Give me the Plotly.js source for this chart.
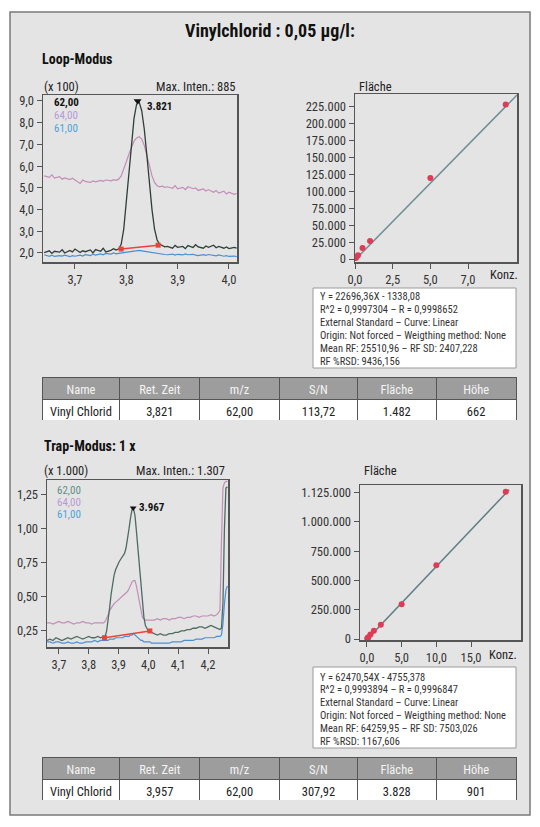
<!DOCTYPE html>
<html><head><meta charset="utf-8">
<script src="https://cdn.plot.ly/plotly-3.0.1.min.js"></script>
<style>html,body{margin:0;padding:0;background:#fff}#chart{width:540px;height:827px}</style>
</head><body><div id="chart"></div>
<script>
// ---------- DATA ----------
// Loop-Modus chromatogram (x 100)
const loopTime = [3.640,3.650,3.655,3.660,3.670,3.675,3.680,3.690,3.695,3.700,3.710,3.715,3.720,3.730,3.735,3.740,3.750,3.755,3.760,3.770,3.775,3.780,
  3.785,3.790,3.795,3.800,3.805,3.810,3.815,3.820,3.825,3.830,3.835,3.840,3.845,3.850,3.855,3.860,3.865,3.870,3.875,
  3.880,3.890,3.895,3.900,3.910,3.915,3.920,3.930,3.935,3.940,3.950,3.955,3.960,3.970,3.975,3.980,3.990,3.995,4.000,4.010,4.015];
const loop62 = [2.02,2.10,1.98,2.08,2.04,2.15,2.00,2.12,2.05,2.18,2.02,2.10,2.06,2.14,2.00,2.16,2.08,2.22,2.05,2.12,2.20,2.14,
  2.18,2.40,3.10,4.40,5.90,7.20,8.20,8.85,8.95,8.55,7.70,6.50,5.20,4.00,3.10,2.60,2.40,2.32,2.28,
  2.30,2.22,2.35,2.26,2.30,2.20,2.34,2.25,2.38,2.28,2.22,2.32,2.26,2.36,2.24,2.30,2.22,2.28,2.20,2.26,2.22];
const loop64 = [5.55,5.48,5.60,5.45,5.52,5.40,5.46,5.38,5.44,5.35,5.20,5.36,5.30,5.25,5.32,5.28,5.34,5.30,5.36,5.32,5.38,5.35,
  5.40,5.55,5.85,6.20,6.55,6.90,7.15,7.30,7.35,7.25,6.95,6.50,6.00,5.55,5.25,5.10,5.05,5.08,5.02,
  5.05,4.98,5.10,4.95,5.02,4.92,5.05,4.96,5.00,4.88,4.95,4.85,4.92,4.80,4.88,4.76,4.85,4.72,4.80,4.70,4.74];
const loop61 = [1.92,1.85,1.90,1.84,1.88,1.86,1.90,1.83,1.88,1.85,1.90,1.86,1.92,1.88,1.94,1.90,1.96,1.92,1.98,1.95,2.00,1.96,
  1.98,2.00,2.02,2.04,2.06,2.08,2.10,2.10,2.12,2.10,2.08,2.06,2.02,2.00,1.98,1.96,1.95,1.94,1.93,
  1.92,1.95,1.90,1.94,1.91,1.96,1.92,1.94,1.90,1.88,1.92,1.89,1.93,1.90,1.87,1.91,1.85,1.88,1.84,1.86,1.83];
const loopBaseX = [3.790, 3.862];
const loopBaseY = [2.18, 2.36];
const loopPeakX = [3.822];
const loopPeakY = [9.0];
const loopPeakLabel = "3.821";

// Loop-Modus calibration
const loopConc = [0.05, 0.1, 0.2, 0.5, 1.0, 5.0, 10.0];
const loopArea = [1500, 3000, 5500, 16500, 26500, 120000, 228500];
const loopFitX = [0, 10.75];
const loopFitY = [-1340, 242650];
const loopYTicks = [0,25000,50000,75000,100000,125000,150000,175000,200000,225000];
const loopYTickText = ["0","25.000","50.000","75.000","100.000","125.000","150.000","175.000","200.000","225.000"];
const loopXTicks = [0, 2.5, 5, 7.5];
const loopXTickText = ["0,0","2,5","5,0","7,0"];
const loopInfo = ["Y = 22696,36X - 1338,08","R^2 = 0,9997304 \u2013 R = 0,9998652","External Standard \u2013 Curve: Linear",
  "Origin: Not forced \u2013 Weigthing method: None","Mean RF: 25510,96 \u2013 RF SD: 2407,228","RF %RSD: 9436,156"];

// Trap-Modus chromatogram (x 1.000)
const trapTime = [3.660,3.670,3.680,3.690,3.700,3.710,3.720,3.730,3.740,3.750,3.760,3.770,3.780,3.790,3.800,3.810,3.820,3.830,3.840,3.850,
  3.855,3.860,3.865,3.870,3.875,3.880,3.885,3.890,3.895,3.900,3.905,3.910,3.915,3.920,3.925,3.930,3.935,3.940,3.945,3.950,3.955,3.960,3.965,3.970,3.975,3.980,3.985,3.990,3.995,4.000,4.005,4.010,
  4.020,4.030,4.040,4.050,4.060,4.070,4.080,4.090,4.100,4.110,4.120,4.130,4.140,4.150,4.160,4.170,4.180,4.190,4.200,4.210,4.220,4.230,4.240,
  4.245,4.250,4.255,4.260,4.265];
const trap62 = [0.18,0.19,0.18,0.20,0.19,0.18,0.19,0.20,0.19,0.20,0.21,0.20,0.19,0.20,0.21,0.20,0.20,0.21,0.20,0.21,
  0.21,0.25,0.32,0.42,0.52,0.60,0.66,0.70,0.73,0.75,0.77,0.79,0.80,0.82,0.86,0.92,1.00,1.08,1.14,1.15,1.10,0.98,0.85,0.72,0.58,0.45,0.35,0.29,0.27,0.25,0.245,0.24,
  0.23,0.22,0.23,0.22,0.22,0.23,0.23,0.24,0.24,0.25,0.25,0.26,0.26,0.27,0.27,0.28,0.28,0.27,0.28,0.29,0.28,0.27,0.26,
  0.27,0.45,1.00,1.30,1.31];
const trap64 = [0.31,0.31,0.30,0.31,0.32,0.31,0.31,0.32,0.31,0.30,0.31,0.31,0.32,0.31,0.31,0.30,0.31,0.31,0.31,0.31,
  0.32,0.34,0.37,0.40,0.42,0.44,0.45,0.46,0.47,0.48,0.49,0.50,0.51,0.52,0.53,0.54,0.56,0.59,0.61,0.62,0.62,0.58,0.52,0.46,0.40,0.35,0.34,0.33,0.33,0.33,0.335,0.33,
  0.33,0.34,0.33,0.34,0.34,0.33,0.34,0.34,0.35,0.35,0.34,0.35,0.35,0.36,0.36,0.35,0.36,0.36,0.36,0.37,0.36,0.37,0.40,
  0.90,1.30,1.34,1.35,1.35];
const trap61 = [0.17,0.17,0.16,0.17,0.17,0.16,0.16,0.17,0.16,0.16,0.17,0.16,0.16,0.17,0.17,0.17,0.18,0.17,0.18,0.18,
  0.18,0.18,0.18,0.19,0.19,0.19,0.19,0.20,0.20,0.20,0.20,0.20,0.20,0.21,0.21,0.21,0.21,0.22,0.22,0.23,0.22,0.21,0.20,0.19,0.18,0.18,0.17,0.17,0.17,0.17,0.17,0.16,
  0.16,0.16,0.16,0.16,0.16,0.16,0.17,0.17,0.17,0.17,0.18,0.18,0.18,0.18,0.19,0.19,0.19,0.20,0.20,0.20,0.20,0.21,0.21,
  0.22,0.30,0.45,0.55,0.58];
const trapBaseX = [3.853, 4.005];
const trapBaseY = [0.20, 0.25];
const trapPeakX = [3.949];
const trapPeakY = [1.155];
const trapPeakLabel = "3.967";

// Trap-Modus calibration
const trapConc = [0.05, 0.1, 0.2, 0.5, 1, 2, 5, 10, 20];
const trapArea = [3800, 9000, 16000, 38000, 70000, 122000, 298000, 630000, 1258000];
const trapFitX = [0, 20.5];
const trapFitY = [-4755, 1276000];
const trapYTicks = [0, 250000, 500000, 750000, 1000000, 1250000];
const trapYTickText = ["0","250.000","500.000","750.000","1.000.000","1.125.000"];
const trapXTicks = [0, 5, 10, 15];
const trapXTickText = ["0,0","5,0","10,0","15,0"];
const trapInfo = ["Y = 62470,54X - 4755,378","R^2 = 0,9993894 \u2013 R = 0,9996847","External Standard \u2013 Curve: Linear",
  "Origin: Not forced \u2013 Weigthing method: None","Mean RF: 64259,95 \u2013 RF SD: 7503,026","RF %RSD: 1167,606"];

// Tables
const tableHeader = ["Name","Ret. Zeit","m/z","S/N","Fl\u00e4che","H\u00f6he"];
const loopRow = ["Vinyl\u00a0Chlorid","3,821","62,00","113,72","1.482","662"];
const trapRow = ["Vinyl\u00a0Chlorid","3,957","62,00","307,92","3.828","901"];
const massLabels = ["62,00","64,00","61,00"];

// ---------- LAYOUT HELPERS ----------
const W = 540, H = 827;
const px = x => x / W;
const py = y => 1 - y / H;
const FONT = "Liberation Sans Narrow, Roboto Condensed, Roboto, Arial, sans-serif";
const C62 = "#2f3f38", C64 = "#c48db8", C61 = "#4a8fd6", CRED = "#e8443a";
const C62b = "#4d6c64";

function ax(domain, range, extra) {
  return Object.assign({
    domain: domain, range: range, showgrid: false, zeroline: false,
    showline: true, mirror: true, linecolor: "#555", linewidth: 1.5,
    ticks: "outside", ticklen: 5, tickcolor: "#555", tickwidth: 1,
    tickfont: {family: FONT, size: 12.5, color: "#333"}, fixedrange: true
  }, extra);
}

const traces = [
  // Chart 1
  {x: loopTime, y: loop64, xaxis: "x", yaxis: "y", mode: "lines", line: {color: C64, width: 1.2}, hoverinfo: "skip"},
  {x: loopTime, y: loop61, xaxis: "x", yaxis: "y", mode: "lines", line: {color: C61, width: 1.2}, hoverinfo: "skip"},
  {x: loopTime, y: loop62, xaxis: "x", yaxis: "y", mode: "lines", line: {color: C62, width: 1.3}, hoverinfo: "skip"},
  {x: loopBaseX, y: loopBaseY, xaxis: "x", yaxis: "y", mode: "lines+markers", line: {color: CRED, width: 1.5}, marker: {color: CRED, size: 5, symbol: "square"}},
  {x: loopPeakX, y: loopPeakY, xaxis: "x", yaxis: "y", mode: "markers", marker: {color: "#111", size: 7, symbol: "triangle-down"}},
  // Chart 2
  {x: loopFitX, y: loopFitY, xaxis: "x2", yaxis: "y2", mode: "lines", line: {color: "#6f8f95", width: 1.5}},
  {x: loopConc, y: loopArea, xaxis: "x2", yaxis: "y2", mode: "markers", marker: {color: "#e03a55", size: 6}},
  // Chart 3
  {x: trapTime, y: trap64, xaxis: "x3", yaxis: "y3", mode: "lines", line: {color: C64, width: 1.2}},
  {x: trapTime, y: trap61, xaxis: "x3", yaxis: "y3", mode: "lines", line: {color: C61, width: 1.2}},
  {x: trapTime, y: trap62, xaxis: "x3", yaxis: "y3", mode: "lines", line: {color: C62b, width: 1.3}},
  {x: trapBaseX, y: trapBaseY, xaxis: "x3", yaxis: "y3", mode: "lines+markers", line: {color: CRED, width: 1.5}, marker: {color: CRED, size: 5, symbol: "square"}},
  {x: trapPeakX, y: trapPeakY, xaxis: "x3", yaxis: "y3", mode: "markers", marker: {color: "#111", size: 6, symbol: "triangle-down"}},
  // Chart 4
  {x: trapFitX, y: trapFitY, xaxis: "x4", yaxis: "y4", mode: "lines", line: {color: "#5f7f85", width: 1.5}},
  {x: trapConc, y: trapArea, xaxis: "x4", yaxis: "y4", mode: "markers", marker: {color: "#e03a55", size: 6}},
];

function tableTrace(row, y0, y1) {
  return {
    type: "table",
    domain: {x: [px(42), px(517)], y: [py(y1), py(y0)]},
    columnwidth: [78, 80, 80, 78, 79, 80],
    header: {values: tableHeader, fill: {color: "#9d9d9d"}, align: "center", height: 22,
      font: {family: FONT, size: 12.5, color: "#f4f4f4"}, line: {color: "#555", width: 1}},
    cells: {values: row.map(v => [v]), fill: {color: "#ffffff"}, align: "center", height: 22,
      font: {family: FONT, size: 12.5, color: "#222"}, line: {color: "#555", width: 1}}
  };
}
traces.push(tableTrace(loopRow, 377, 421));
traces.push(tableTrace(trapRow, 757, 801));

const ann = [];
function txt(text, x, y, o) {
  ann.push(Object.assign({text: text, x: px(x), y: py(y), xref: "paper", yref: "paper",
    showarrow: false, xanchor: "left", yanchor: "middle",
    font: {family: FONT, size: 12.5, color: "#222"}}, o || {}));
}
txt("<b>Vinylchlorid : 0,05 \u00b5g/l:</b>", 270, 30, {xanchor: "center", font: {family: FONT, size: 18, color: "#111"}});
txt("<b>Loop-Modus</b>", 40, 59, {font: {family: FONT, size: 14, color: "#111"}});
txt("(x 100)", 42, 86);
txt("Max. Inten.: 885", 237, 86, {xanchor: "right"});
txt("Fl\u00e4che", 357, 86);
txt("Konz.", 504, 274, {xanchor: "center"});
txt("<b>" + massLabels[0] + "</b>", 52, 103, {font: {family: FONT, size: 11, color: "#111"}});
txt(massLabels[1], 52, 116, {font: {family: FONT, size: 11, color: "#b49bd8"}});
txt(massLabels[2], 52, 129, {font: {family: FONT, size: 11, color: "#4ea3d9"}});
txt("<b>" + loopPeakLabel + "</b>", 145, 107, {font: {family: FONT, size: 11, color: "#111"}});
loopInfo.forEach((t, i) => txt(t, 318, 297 + i * 12.8, {font: {family: FONT, size: 10.5, color: "#333"}}));

txt("<b>Trap-Modus: 1 x</b>", 42, 446, {font: {family: FONT, size: 14, color: "#111"}});
txt("(x 1.000)", 42, 471);
txt("Max. Inten.: 1.307", 227, 471, {xanchor: "right"});
txt("Fl\u00e4che", 362, 470);
txt("Konz.", 503, 654, {xanchor: "center"});
txt(massLabels[0], 55, 490, {font: {family: FONT, size: 11, color: "#5e8f86"}});
txt(massLabels[1], 55, 502, {font: {family: FONT, size: 11, color: "#b49bd8"}});
txt(massLabels[2], 55, 514, {font: {family: FONT, size: 11, color: "#4ea3d9"}});
txt("<b>" + trapPeakLabel + "</b>", 137, 508, {font: {family: FONT, size: 11, color: "#111"}});
trapInfo.forEach((t, i) => txt(t, 318, 677 + i * 12.8, {font: {family: FONT, size: 10.5, color: "#333"}}));

function rect(x0, y0, x1, y1, fill, line, lw) {
  return {type: "rect", xref: "paper", yref: "paper", x0: px(x0), x1: px(x1), y0: py(y1), y1: py(y0),
    fillcolor: fill, line: {color: line, width: lw}, layer: "below"};
}

const layout = {
  width: W, height: H, margin: {l: 0, r: 0, t: 0, b: 0},
  paper_bgcolor: "#ffffff", plot_bgcolor: "#b9e4e9",
  showlegend: false, separators: ",.", font: {family: FONT},
  xaxis: ax([px(43), px(237)], [3.6377, 4.0156], {anchor: "y", tickvals: [3.7, 3.8, 3.9, 4.0], tickformat: ".1f"}),
  yaxis: ax([py(262), py(95)], [1.585, 9.276], {anchor: "x", tickvals: [2,3,4,5,6,7,8,9], tickformat: ".1f"}),
  xaxis2: ax([px(355), px(517)], [0, 10.75], {anchor: "y2", tickvals: loopXTicks, ticktext: loopXTickText}),
  yaxis2: ax([py(262), py(94)], [-4400, 244200], {anchor: "x2", tickvals: loopYTicks, ticktext: loopYTickText}),
  xaxis3: ax([px(47), px(228)], [3.66, 4.267], {anchor: "y3", tickvals: [3.7, 3.8, 3.9, 4.0, 4.1, 4.2], tickformat: ".1f"}),
  yaxis3: ax([py(647), py(480)], [0.132, 1.36], {anchor: "x3", tickvals: [0.25, 0.5, 0.75, 1.0, 1.25], tickformat: ".2f"}),
  xaxis4: ax([px(360), px(521)], [-1.0, 22.2], {anchor: "y4", tickvals: trapXTicks, ticktext: trapXTickText}),
  yaxis4: ax([py(640), py(485)], [-8500, 1316000], {anchor: "x4", tickvals: trapYTicks, ticktext: trapYTickText}),
  shapes: [
    rect(10, 12, 530, 815, "#e4e4e4", "#7a7a7a", 1.5),
    rect(313, 288, 516, 368, "#ffffff", "#9a9a9a", 1),
    rect(313, 667, 516, 748, "#ffffff", "#9a9a9a", 1)
  ],
  annotations: ann
};

Plotly.newPlot("chart", traces, layout, {staticPlot: true, displayModeBar: false});
</script></body></html>
